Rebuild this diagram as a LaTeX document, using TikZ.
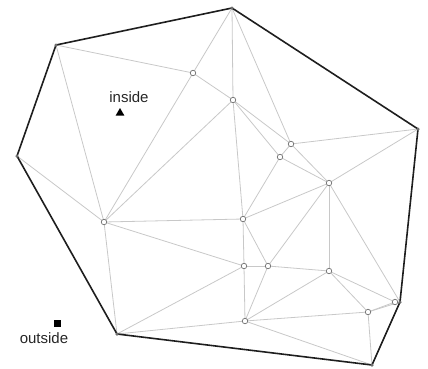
\documentclass[tikz,border=0pt]{standalone}
\usepackage{fontspec}
\setmainfont{Liberation Sans}
\usetikzlibrary{shapes.geometric}
\pgfdeclarelayer{bg}
\pgfsetlayers{bg,main}
\definecolor{edgegray}{RGB}{200,200,200}
\definecolor{ringgray}{RGB}{110,110,110}
\definecolor{hullcol}{RGB}{30,30,30}
\begin{document}
\begin{tikzpicture}[x=1pt,y=-1pt,
  pt/.style={circle,draw=ringgray,fill=white,line width=0.7pt,inner sep=0pt,minimum size=5.5pt},
  hv/.style={circle,fill=ringgray,inner sep=0pt,minimum size=3.5pt},
  tri/.style={edgegray,line width=0.8pt},
  hull/.style={hullcol,line width=1.6pt,line join=round},
  lbl/.style={font=\fontsize{15}{17}\selectfont,text=black!85,inner sep=0pt}]
\useasboundingbox (0,0) rectangle (428,368);
% hull vertices
\node[hv] (A) at (56,45) {};
\node[hv] (B) at (232,8) {};
\node[hv] (C) at (418,129) {};
\node[hv] (D) at (400,302) {};
\node[hv] (E) at (372,365) {};
\node[hv] (F) at (117,334) {};
\node[hv] (G) at (17,156) {};
% interior points
\node[pt] (p1) at (193,73) {};
\node[pt] (p2) at (233,100) {};
\node[pt] (p3) at (291,144) {};
\node[pt] (p4) at (280,157) {};
\node[pt] (p5) at (329,183) {};
\node[pt] (p6) at (104,222) {};
\node[pt] (p7) at (243,219) {};
\node[pt] (p8) at (244,266) {};
\node[pt] (p9) at (268,266) {};
\node[pt] (p10) at (329,271) {};
\node[pt] (p11) at (395,302) {};
\node[pt] (p12) at (368,312) {};
\node[pt] (p13) at (245,321) {};
% markers and labels
\node[regular polygon,regular polygon sides=3,fill=black,inner sep=0pt,minimum size=10pt] (ins) at (120,113) {};
\node[lbl] (tin) at (129,97) {inside};
\node[fill=black,inner sep=0pt,minimum size=7pt] (outs) at (57,323) {};
\node[lbl] (tout) at (44,338) {outside};
\begin{pgfonlayer}{bg}
\foreach \u/\v in {A/p1,A/p6,G/p6,B/p1,B/p2,B/p3,p1/p2,p1/p6,p2/p6,p2/p3,p2/p4,p2/p7,
  p3/p4,p3/p5,p3/C,p4/p5,p4/p7,p5/C,p5/p7,p5/p9,p5/p10,p5/D,p6/p7,p6/p8,p6/F,
  p7/p8,p7/p9,p8/p9,p8/F,p8/p13,p9/p13,p9/p10,p10/p13,p10/p11,p10/p12,p11/p12,
  p11/D,p12/E,p12/D,p13/F,p13/E,p13/p12}
  \draw[tri] (\u.center) -- (\v.center);
\draw[hull] (A.center) -- (B.center) -- (C.center) -- (D.center) -- (E.center) -- (F.center) -- (G.center) -- cycle;
\end{pgfonlayer}
\end{tikzpicture}
\end{document}
